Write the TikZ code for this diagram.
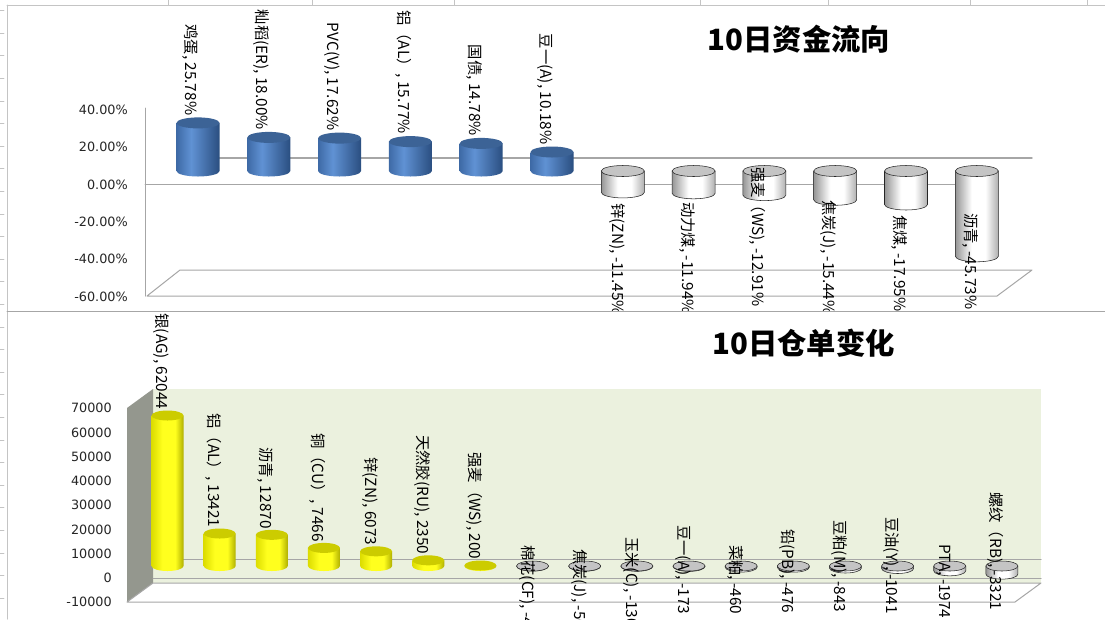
\documentclass[tikz,border=0pt]{standalone}
\usepackage{fontspec}
\setmainfont{Noto Sans CJK SC}
\newfontfamily\axisfont{DejaVu Sans}
\usepackage{pgf,tikz}

\definecolor{barblueL}{RGB}{62,106,166}
\definecolor{barblueH}{RGB}{96,146,212}
\definecolor{barblueD}{RGB}{42,78,128}
\definecolor{bartopblue}{RGB}{60,99,150}
\definecolor{baryellowL}{RGB}{220,220,0}
\definecolor{baryellowH}{RGB}{255,255,30}
\definecolor{baryellowD}{RGB}{175,175,0}
\definecolor{bartopyellow}{RGB}{204,204,0}
\definecolor{barwhiteL}{RGB}{150,150,150}
\definecolor{barwhiteD}{RGB}{175,175,175}
\definecolor{bartopwhite}{RGB}{196,196,196}
\definecolor{wallgreen}{RGB}{235,241,222}
\definecolor{wallgray}{RGB}{148,151,142}
\definecolor{gridgray}{RGB}{166,166,166}
\definecolor{sheetgray}{RGB}{196,196,196}

\pgfdeclarehorizontalshading{blueshade}{100bp}{color(0bp)=(barblueL); color(25bp)=(barblueL); color(42bp)=(barblueH); color(75bp)=(barblueD); color(100bp)=(barblueD)}
\pgfdeclarehorizontalshading{yellowshade}{100bp}{color(0bp)=(baryellowL); color(25bp)=(baryellowL); color(42bp)=(baryellowH); color(62bp)=(baryellowH); color(75bp)=(baryellowD); color(100bp)=(baryellowD)}
\pgfdeclarehorizontalshading{whiteshade}{100bp}{color(0bp)=(barwhiteL); color(25bp)=(barwhiteL); color(44bp)=(white); color(60bp)=(white); color(75bp)=(barwhiteD); color(100bp)=(barwhiteD)}

% cylinder: centre x, upper y, lower y, x radius, y radius, kind
\newcommand{\cylbar}[6]{%
\path[#6body] (#1-#4,#2) -- (#1-#4,#3) arc[start angle=180,end angle=0,x radius=#4,y radius=#5] -- (#1+#4,#2) -- cycle;
\path[#6top] (#1,#2) ellipse[x radius=#4,y radius=#5];}

\begin{document}
\begin{tikzpicture}[line cap=round,line join=round,x=0.75pt,y=-0.75pt,
  bluebody/.style={shade,shading=blueshade},
  bluetop/.style={fill=bartopblue},
  yellowbody/.style={shade,shading=yellowshade},
  yellowtop/.style={fill=bartopyellow},
  whitebody/.style={shade,shading=whiteshade,draw=black!85,line width=0.4pt},
  whitetop/.style={fill=bartopwhite,draw=black!85,line width=0.4pt},
  datalabel/.style={rotate=-90,inner sep=0pt,font=\fontsize{11.5}{12}\selectfont},
  yaxislabel/.style={anchor=east,inner sep=0pt,text=black!85,font=\axisfont\fontsize{9.6}{10}\selectfont},
  charttitle/.style={inner sep=0pt,font=\fontsize{22}{24}\selectfont\bfseries}]
\clip (0,0) rectangle (1105,619);
\fill[white] (0,0) rectangle (1105,619);
% sheet behind the charts
\draw[sheetgray,line width=0.75pt] (7,5) -- (1105,5);
\draw[sheetgray,line width=0.75pt] (7,5) -- (7,619);
\foreach \c in {168,312,454,700,828,970,1087}
  \draw[sheetgray,line width=0.5pt] (\c,0) -- (\c,5);
\foreach \r in {0,...,27}
  \draw[sheetgray,line width=0.5pt] (0,10.6+22.6*\r) -- (4,10.6+22.6*\r);
\draw[gridgray,line width=0.75pt] (7,311) -- (1105,311);

% ---- 10日资金流向 ----
\draw[gridgray,line width=0.75pt] (147,296) -- (180,270) -- (1032,270) -- (997,296) -- cycle;
\draw[gridgray,line width=0.75pt] (145,108) -- (145,296);
\draw[gridgray,line width=1pt] (180,158) -- (1032,158);
\draw[gridgray,line width=0.75pt] (145,184) -- (997,184);
\node[yaxislabel] (ta40) at (128,110) {40.00\%};
\node[yaxislabel] (ta20) at (128,147.3) {20.00\%};
\node[yaxislabel] (ta0) at (128,184.6) {0.00\%};
\node[yaxislabel] (tam20) at (128,222) {-20.00\%};
\node[yaxislabel] (tam40) at (128,259.3) {-40.00\%};
\node[yaxislabel] (tam60) at (128,296.6) {-60.00\%};
\cylbar{198}{122.9}{171}{21.5}{5.5}{blue}
\cylbar{268.8}{137.4}{171}{21.5}{5.5}{blue}
\cylbar{339.6}{138.1}{171}{21.5}{5.5}{blue}
\cylbar{410.4}{141.6}{171}{21.5}{5.5}{blue}
\cylbar{481.2}{143.4}{171}{21.5}{5.5}{blue}
\cylbar{552}{152}{171}{21.5}{5.5}{blue}
\cylbar{622.8}{171}{192.4}{21.5}{5.5}{white}
\cylbar{693.6}{171}{193.3}{21.5}{5.5}{white}
\cylbar{764.4}{171}{195.1}{21.5}{5.5}{white}
\cylbar{835.2}{171}{199.8}{21.5}{5.5}{white}
\cylbar{906}{171}{204.5}{21.5}{5.5}{white}
\cylbar{976.8}{171}{256.3}{21.5}{5.5}{white}
\begin{scope}
\clip (0,0) rectangle (1105,310);
\node[datalabel,anchor=east] (jidan) at (191,115.4) {鸡蛋, 25.78\%};
\node[datalabel,anchor=east] (xiandao) at (261.8,129.9) {籼稻(ER), 18.00\%};
\node[datalabel,anchor=east] (pvc) at (332.6,130.6) {PVC(V), 17.62\%};
\node[datalabel,anchor=east] (lvtop) at (403.4,134.1) {铝（AL）, 15.77\%};
\node[datalabel,anchor=east] (guozhai) at (474.2,135.9) {国债, 14.78\%};
\node[datalabel,anchor=east] (douyitop) at (545,144.5) {豆一(A), 10.18\%};
\node[datalabel,anchor=west] (xintop) at (617,203) {锌(ZN), -11.45\%};
\node[datalabel,anchor=west] (donglimei) at (687,202) {动力煤, -11.94\%};
\node[datalabel,anchor=west] (qiangmaitop) at (758,167) {强麦（WS), -12.91\%};
\node[datalabel,anchor=west] (jiaotantop) at (828,200) {焦炭(J), -15.44\%};
\node[datalabel,anchor=west] (jiaomei) at (900,215) {焦煤, -17.95\%};
\node[datalabel,anchor=west] (liqingtop) at (970,213) {沥青, -45.73\%};
\end{scope}
\node[charttitle] (title1) at (799,39) {10日资金流向};

% ---- 10日仓单变化 ----
\fill[wallgreen] (153,389) rectangle (1041,583);
\fill[wallgray] (127,408) -- (153,389) -- (153,583) -- (127,602) -- cycle;
\draw[gridgray,line width=0.75pt] (153,559) -- (1041,559);
\draw[gridgray,line width=0.75pt] (153,578) -- (1041,578);
\draw[gridgray,line width=0.75pt,fill=white] (127,602) -- (153,583) -- (1041,583) -- (1015,602) -- cycle;
\node[yaxislabel] (ba70) at (112,408) {70000};
\node[yaxislabel] (ba60) at (112,432.5) {60000};
\node[yaxislabel] (ba50) at (112,456.7) {50000};
\node[yaxislabel] (ba40) at (112,481) {40000};
\node[yaxislabel] (ba30) at (112,505.2) {30000};
\node[yaxislabel] (ba20) at (112,529.5) {20000};
\node[yaxislabel] (ba10) at (112,553.7) {10000};
\node[yaxislabel] (ba0) at (112,578) {0};
\node[yaxislabel] (bam10) at (112,602) {-10000};
\cylbar{167.5}{415.5}{566}{16}{5}{yellow}
\cylbar{219.65}{533.5}{566}{16}{5}{yellow}
\cylbar{271.8}{534.8}{566}{16}{5}{yellow}
\cylbar{323.95}{547.9}{566}{16}{5}{yellow}
\cylbar{376.1}{551.3}{566}{16}{5}{yellow}
\cylbar{428.25}{560.3}{566}{16}{5}{yellow}
\cylbar{480.4}{565.5}{566}{16}{5}{yellow}
\cylbar{532.55}{566}{566.1}{16}{5}{white}
\cylbar{584.7}{566}{566.2}{16}{5}{white}
\cylbar{636.85}{566}{566.3}{16}{5}{white}
\cylbar{689}{566}{566.4}{16}{5}{white}
\cylbar{741.15}{566}{567.1}{16}{5}{white}
\cylbar{793.3}{566}{567.2}{16}{5}{white}
\cylbar{845.45}{566}{568}{16}{5}{white}
\cylbar{897.6}{566}{568.5}{16}{5}{white}
\cylbar{949.75}{566}{570.8}{16}{5}{white}
\cylbar{1001.9}{566}{574.1}{16}{5}{white}
\node[datalabel,anchor=east] (yin) at (161.5,409.5) {银(AG), 62044};
\node[datalabel,anchor=east] (lv) at (213.65,527.5) {铝（AL）, 13421};
\node[datalabel,anchor=east] (liqing) at (265.8,528.8) {沥青, 12870};
\node[datalabel,anchor=east] (tong) at (317.95,541.9) {铜（CU）, 7466};
\node[datalabel,anchor=east] (xin) at (370.1,545.3) {锌(ZN), 6073};
\node[datalabel,anchor=east] (xiangjiao) at (422.25,554.3) {天然胶(RU), 2350};
\node[datalabel,anchor=east] (qiangmai) at (474.4,559.5) {强麦（WS), 200};
\node[datalabel,anchor=west] (mianhua) at (527,545) {棉花(CF), -4};
\node[datalabel,anchor=west] (jiaotan) at (579,549) {焦炭(J), -50};
\node[datalabel,anchor=west] (yumi) at (631,537) {玉米(C), -130};
\node[datalabel,anchor=west] (douyi) at (683,525) {豆一(A), -173};
\node[datalabel,anchor=west] (caipo) at (735,545) {菜粕, -460};
\node[datalabel,anchor=west] (qian) at (787,529) {铅(PB), -476};
\node[datalabel,anchor=west] (doupo) at (839.5,520) {豆粕(M), -843};
\node[datalabel,anchor=west] (douyou) at (891.6,517) {豆油(Y), -1041};
\node[datalabel,anchor=west] (pta) at (943.75,544) {PTA, -1974};
\node[datalabel,anchor=west] (luowen) at (996,492) {螺纹（RB), -3321};
\node[charttitle] (title2) at (803.5,343) {10日仓单变化};
\end{tikzpicture}
\end{document}
